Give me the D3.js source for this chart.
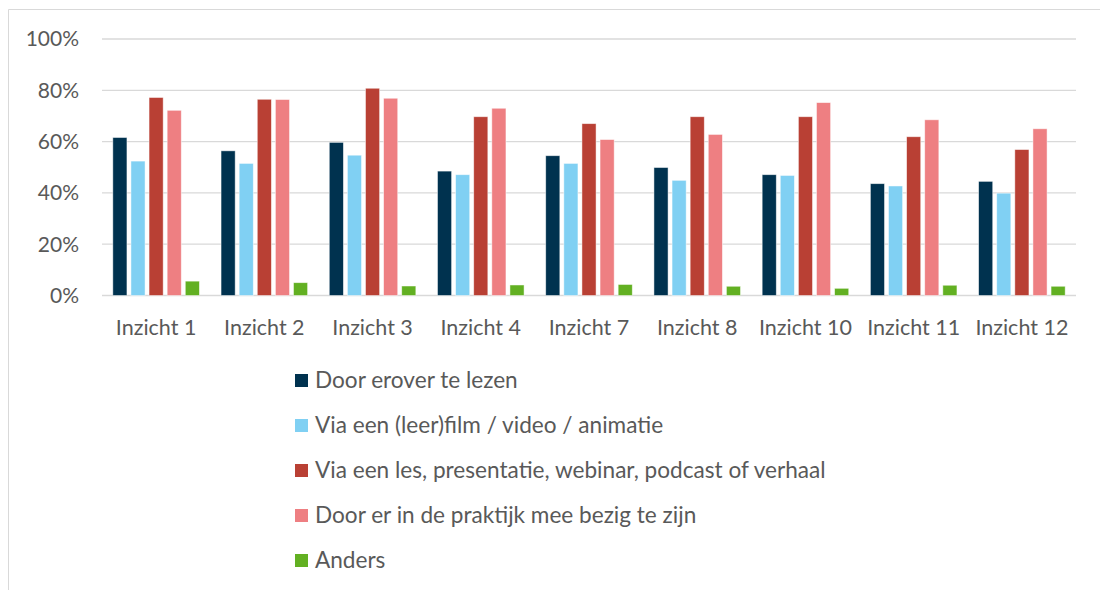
<!DOCTYPE html>
<html>
<head>
<meta charset="utf-8">
<script src="https://cdn.jsdelivr.net/npm/d3@7"></script>
<style>
    body { margin: 0; background: #fff; }
    text { font-family: Lato, "Noto Sans", sans-serif; fill: #595959; }
</style>
</head>
<body>
<svg id="chart" width="1100" height="590"></svg>
<script>
let categories = ["Inzicht 1", "Inzicht 2", "Inzicht 3", "Inzicht 4", "Inzicht 7", "Inzicht 8", "Inzicht 10", "Inzicht 11", "Inzicht 12"];
let seriesNames = [
    "Door erover te lezen",
    "Via een (leer)film / video / animatie",
    "Via een les, presentatie, webinar, podcast of verhaal",
    "Door er in de praktijk mee bezig te zijn",
    "Anders"
];
let seriesColors = ["#00324f", "#80d0f3", "#b94034", "#ee7f82", "#62b022"];

let lezen    = [61.6, 56.4, 59.7, 48.5, 54.5, 49.9, 47.1, 43.6, 44.5];
let film     = [52.4, 51.5, 54.7, 47.1, 51.5, 44.9, 46.8, 42.7, 39.9];
let les      = [77.2, 76.5, 80.8, 69.7, 67.0, 69.7, 69.7, 61.9, 56.9];
let praktijk = [72.2, 76.4, 76.9, 73.0, 60.8, 62.8, 75.2, 68.5, 65.0];
let anders   = [5.6, 5.0, 3.7, 4.1, 4.3, 3.6, 2.8, 4.0, 3.6];
let yTicks = [0, 20, 40, 60, 80, 100];

let allSeries = [lezen, film, les, praktijk, anders];

let svg = d3.select("#chart");

// chart frame (partly cut off at the right and bottom)
svg.append("path")
    .attr("d", "M8.5,590 V9.5 H1100")
    .attr("fill", "none")
    .attr("stroke", "#d9d9d9")
    .attr("stroke-width", 1);

let plotLeft = 102, plotRight = 1076, plotTop = 39, plotBottom = 295.5;

let x = d3.scaleBand().domain(categories).range([plotLeft, plotRight]).paddingInner(0.2).paddingOuter(0.1);
let xInner = d3.scaleBand().domain(d3.range(seriesNames.length)).range([0, x.bandwidth()]).paddingInner(0.22);
let y = d3.scaleLinear().domain([0, 100]).range([plotBottom, plotTop]);

// gridlines
svg.append("g").selectAll("line")
    .data(yTicks).enter()
    .append("line")
    .attr("x1", plotLeft)
    .attr("x2", plotRight)
    .attr("y1", function (d) { return y(d); })
    .attr("y2", function (d) { return y(d); })
    .attr("stroke", "#d9d9d9")
    .attr("stroke-width", 1.3);

// y labels
svg.append("g").selectAll("text")
    .data(yTicks).enter()
    .append("text")
    .attr("x", 79)
    .attr("y", function (d) { return y(d); })
    .attr("dy", "0.35em")
    .attr("text-anchor", "end")
    .style("font-size", "21px")
    .text(function (d) { return d + "%"; });

// bars
let groups = svg.append("g").selectAll("g")
    .data(categories).enter()
    .append("g")
    .attr("transform", function (d) { return "translate(" + x(d) + ",0)"; });

groups.selectAll("rect")
    .data(function (d, i) { return allSeries.map(function (s, j) { return { series: j, value: s[i] }; }); })
    .enter().append("rect")
    .attr("x", function (d) { return xInner(d.series); })
    .attr("y", function (d) { return y(d.value); })
    .attr("width", xInner.bandwidth())
    .attr("height", function (d) { return plotBottom - y(d.value); })
    .attr("fill", function (d) { return seriesColors[d.series]; })
    .attr("stroke", "#ffffff")
    .attr("stroke-opacity", 0.6)
    .attr("stroke-width", 0.8);

// category labels
svg.append("g").selectAll("text")
    .data(categories).enter()
    .append("text")
    .attr("x", function (d) { return x(d) + x.bandwidth() / 2; })
    .attr("y", 327)
    .attr("dy", "0.35em")
    .attr("text-anchor", "middle")
    .style("font-size", "21.5px")
    .text(function (d) { return d; });

// legend
let legend = svg.append("g").selectAll("g")
    .data(seriesNames).enter()
    .append("g")
    .attr("transform", function (d, i) { return "translate(295," + (380.5 + i * 45) + ")"; });

legend.append("rect")
    .attr("x", 0)
    .attr("y", -6.5)
    .attr("width", 13)
    .attr("height", 13)
    .attr("fill", function (d, i) { return seriesColors[i]; });

legend.append("text")
    .attr("x", 20)
    .attr("y", 0)
    .attr("dy", "0.35em")
    .style("font-size", "22.6px")
    .text(function (d) { return d; });
</script>
</body>
</html>
